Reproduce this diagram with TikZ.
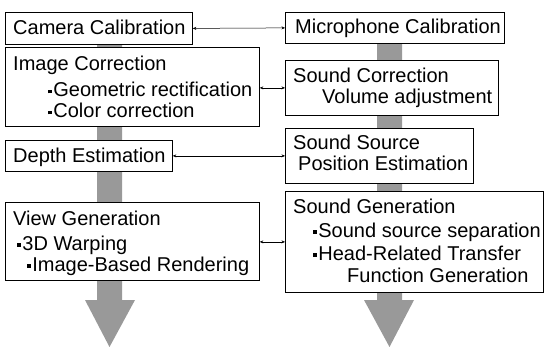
\documentclass[tikz,border=0pt]{standalone}
\usepackage{fontspec}
\setmainfont{Liberation Sans}
\usetikzlibrary{arrows.meta}
\newcommand\bsq{\rule[3.5pt]{3.6pt}{3.6pt}\hspace{1.6pt}}
\tikzset{
  box/.style={draw=black, line width=0.8pt, fill=white, rectangle, inner sep=0pt, anchor=north west},
  txt/.style={anchor=base west, inner sep=0pt, font=\fontsize{20}{22}\selectfont},
  link/.style={black, line width=0.5pt, {Stealth[length=3.5pt,width=3pt]}-{Stealth[length=3.5pt,width=3pt]}},
  bigarrow/.style={fill=black!40, draw=none}
}
\begin{document}
\begin{tikzpicture}[x=1pt,y=-1pt]
\useasboundingbox (0,0) rectangle (545,347);
% big gray arrows
\fill[bigarrow] (97,30) -- (122,30) -- (122,300) -- (135,300) -- (109.5,347) -- (85,300) -- (97,300) -- cycle;
\fill[bigarrow] (377,30) -- (402,30) -- (402,300) -- (414,300) -- (389.5,347) -- (364,300) -- (377,300) -- cycle;
% left boxes
\node[box, minimum width=187pt, minimum height=32pt] (cam) at (5,12) {};
\node[box, minimum width=254pt, minimum height=79pt] (img) at (5,47) {};
\node[box, minimum width=167pt, minimum height=31pt] (dep) at (5,140) {};
\node[box, minimum width=254pt, minimum height=78pt] (view) at (5,202) {};
% right boxes
\node[box, minimum width=219pt, minimum height=31pt] (mic) at (285,12) {};
\node[box, minimum width=213pt, minimum height=55pt] (scor) at (285,60) {};
\node[box, minimum width=188pt, minimum height=55pt] (ssrc) at (285,128) {};
\node[box, minimum width=258pt, minimum height=101pt] (sgen) at (285,191) {};
% texts left
\node[txt] (t1) at (13,35) {Camera Calibration};
\node[txt] (t2) at (13,71) {Image Correction};
\node[txt] (t3) at (48,97) {\bsq Geometric rectification};
\node[txt] (t4) at (48,118) {\bsq Color correction};
\node[txt] (t5) at (13,163) {Depth Estimation};
\node[txt] (t6) at (13,225) {View Generation};
\node[txt] (t7) at (17,250) {\bsq 3D Warping};
\node[txt] (t8) at (27,271) {\bsq Image-Based Rendering};
% texts right
\node[txt] (u1) at (295,34) {Microphone Calibration};
\node[txt] (u2) at (293,83) {Sound Correction};
\node[txt] (u3) at (322,104) {Volume adjustment};
\node[txt] (u4) at (293,150) {Sound Source};
\node[txt] (u5) at (298,171) {Position Estimation};
\node[txt] (u6) at (293,213) {Sound Generation};
\node[txt] (u7) at (313,237) {\bsq Sound source separation};
\node[txt] (u8) at (313,260) {\bsq Head-Related Transfer};
\node[txt] (u9) at (347,282) {Function Generation};
% connectors
\draw[link] (cam.east) -- (mic.west);
\draw[link] (img.east |- scor.west) -- (scor.west);
\draw[link] (dep.east) -- (ssrc.west);
\draw[link] (view.east |- sgen.west) -- (sgen.west);
\end{tikzpicture}
\end{document}
